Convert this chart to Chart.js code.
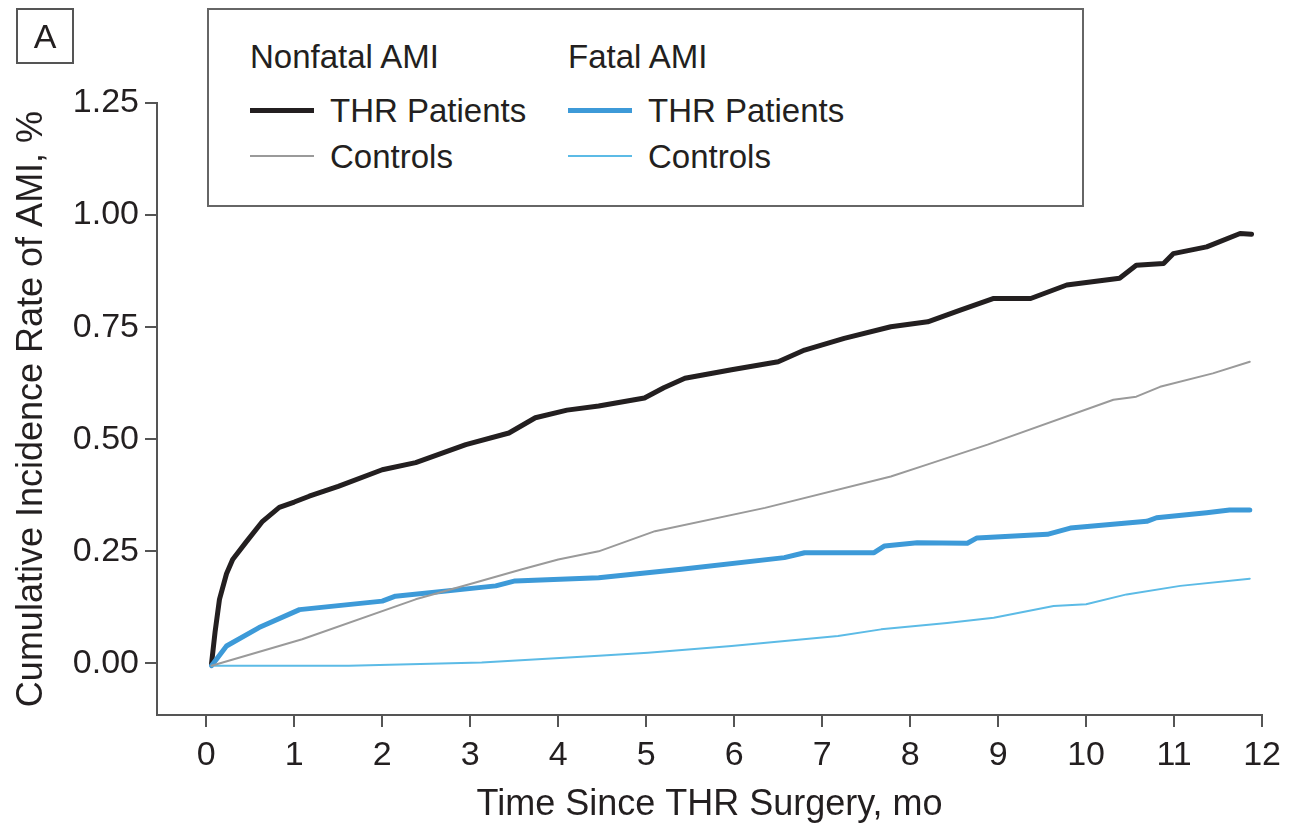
<!DOCTYPE html>
<html>
<head>
<meta charset="utf-8">
<script src="https://cdn.jsdelivr.net/npm/chart.js@4/dist/chart.umd.min.js"></script>
<style>
  body { margin: 0; background: #fff; }
  #wrap { position: relative; width: 1289px; height: 833px; font-family: "Liberation Sans", Arial, sans-serif; color: #231f20; }
  canvas { position: absolute; left: 0; top: 0; }
  .panel { position: absolute; left: 16px; top: 8px; width: 54px; height: 52px; border: 2px solid #555; font-size: 34px; line-height: 52px; text-align: center; }
  .legend { position: absolute; left: 207px; top: 8px; width: 873px; height: 195px; border: 2px solid #666; background: #fff; }
  .legend div { position: absolute; font-size: 33px; line-height: 46px; white-space: nowrap; }
  .legend .swatch { display: inline-block; width: 64px; vertical-align: middle; margin-right: 16px; position: relative; top: -3px; }
</style>
</head>
<body>
<div id="wrap">
  <canvas id="amiChart" width="1289" height="833"></canvas>
  <div class="panel">A</div>
  <div class="legend">
    <div style="left:41px; top:24px">Nonfatal AMI</div>
    <div style="left:41px; top:78px"><span class="swatch" style="border-top:5px solid #231f20"></span>THR Patients</div>
    <div style="left:41px; top:124px"><span class="swatch" style="border-top:2px solid #9a9a9a"></span>Controls</div>
    <div style="left:359px; top:24px">Fatal AMI</div>
    <div style="left:359px; top:78px"><span class="swatch" style="border-top:5px solid #3d9ad8"></span>THR Patients</div>
    <div style="left:359px; top:124px"><span class="swatch" style="border-top:2px solid #5cbbe6"></span>Controls</div>
  </div>
</div>
<script>
// months since surgery / cumulative incidence (%)
const nonfatalThrMonths = [0.06, 0.1, 0.15, 0.23, 0.3, 0.45, 0.64, 0.83, 1.0, 1.17, 1.5, 2.0, 2.38, 2.95, 3.44, 3.74, 4.1, 4.46, 4.98, 5.2, 5.44, 5.97, 6.5, 6.8, 7.25, 7.78, 8.2, 8.57, 8.95, 9.37, 9.78, 10.38, 10.57, 10.88, 10.99, 11.37, 11.75, 11.88];
const nonfatalThrRate   = [0, 0.07, 0.143, 0.2, 0.232, 0.27, 0.317, 0.348, 0.36, 0.373, 0.395, 0.432, 0.448, 0.488, 0.514, 0.548, 0.565, 0.574, 0.592, 0.615, 0.636, 0.655, 0.673, 0.699, 0.725, 0.751, 0.762, 0.788, 0.814, 0.814, 0.844, 0.859, 0.888, 0.892, 0.914, 0.929, 0.959, 0.957];

const nonfatalCtrlMonths = [0.06, 1.09, 2.38, 3.0, 3.59, 4.0, 4.46, 5.1, 6.35, 7.78, 8.2, 8.88, 10.31, 10.57, 10.84, 11.44, 11.86];
const nonfatalCtrlRate   = [-0.005, 0.054, 0.143, 0.177, 0.21, 0.232, 0.25, 0.295, 0.347, 0.417, 0.444, 0.488, 0.588, 0.595, 0.617, 0.647, 0.673];

const fatalThrMonths = [0.06, 0.23, 0.6, 1.06, 2.0, 2.15, 3.29, 3.51, 4.46, 5.4, 6.57, 6.8, 7.59, 7.71, 8.08, 8.65, 8.76, 9.56, 9.82, 10.69, 10.8, 11.37, 11.63, 11.86];
const fatalThrRate   = [-0.005, 0.039, 0.08, 0.12, 0.139, 0.15, 0.173, 0.184, 0.191, 0.21, 0.236, 0.247, 0.247, 0.262, 0.269, 0.268, 0.28, 0.288, 0.302, 0.317, 0.325, 0.336, 0.342, 0.342];

const fatalCtrlMonths = [0.06, 1.62, 3.13, 4.46, 5.02, 5.97, 7.18, 7.67, 8.42, 8.95, 9.63, 10.0, 10.46, 11.07, 11.86];
const fatalCtrlRate   = [-0.005, -0.005, 0.002, 0.017, 0.024, 0.039, 0.061, 0.076, 0.09, 0.102, 0.128, 0.132, 0.154, 0.173, 0.189];

const xTicks = [0, 1, 2, 3, 4, 5, 6, 7, 8, 9, 10, 11, 12];
const yTicks = [0, 0.25, 0.5, 0.75, 1.0, 1.25];

function pts(xs, ys) { return xs.map((x, i) => ({ x: x, y: ys[i] })); }

const font = "'Liberation Sans', Arial, sans-serif";
const ink = '#231f20';
const axisGrey = '#555';

new Chart(document.getElementById('amiChart').getContext('2d'), {
    type: 'line',
    data: {
        datasets: [
            { label: 'Nonfatal AMI Controls', data: pts(nonfatalCtrlMonths, nonfatalCtrlRate), borderColor: '#9a9a9a', borderWidth: 2 },
            { label: 'Fatal AMI Controls', data: pts(fatalCtrlMonths, fatalCtrlRate), borderColor: '#5cbbe6', borderWidth: 2 },
            { label: 'Fatal AMI THR Patients', data: pts(fatalThrMonths, fatalThrRate), borderColor: '#3d9ad8', borderWidth: 5 },
            { label: 'Nonfatal AMI THR Patients', data: pts(nonfatalThrMonths, nonfatalThrRate), borderColor: ink, borderWidth: 5 }
        ]
    },
    options: {
        responsive: false,
        animation: false,
        layout: { padding: { top: 103, right: 21, bottom: 6, left: 0 } },
        elements: { point: { radius: 0 }, line: { tension: 0, borderJoinStyle: 'round', borderCapStyle: 'round' } },
        plugins: { legend: { display: false }, tooltip: { enabled: false } },
        scales: {
            x: {
                type: 'linear', min: -0.56, max: 12,
                afterBuildTicks: s => { s.ticks = xTicks.map(v => ({ value: v })); },
                afterFit: s => { s.height = 112; },
                grid: { drawOnChartArea: false, tickLength: 12, color: axisGrey, lineWidth: 2 },
                border: { color: axisGrey, width: 2 },
                ticks: { color: ink, padding: 8, font: { family: font, size: 34 } },
                title: { display: true, text: 'Time Since THR Surgery, mo', color: ink, padding: { top: 0, bottom: 0 }, font: { family: font, size: 36 } }
            },
            y: {
                type: 'linear', min: -0.115, max: 1.25,
                afterBuildTicks: s => { s.ticks = yTicks.map(v => ({ value: v })); },
                afterFit: s => { s.width = 157; },
                grid: { drawOnChartArea: false, tickLength: 12, color: axisGrey, lineWidth: 2 },
                border: { color: axisGrey, width: 2 },
                ticks: { color: ink, padding: 6, font: { family: font, size: 34 }, callback: v => v.toFixed(2) },
                title: { display: true, text: 'Cumulative Incidence Rate of AMI, %', color: ink, padding: { top: 10, bottom: 0 }, font: { family: font, size: 36 } }
            }
        }
    }
});
</script>
</body>
</html>
